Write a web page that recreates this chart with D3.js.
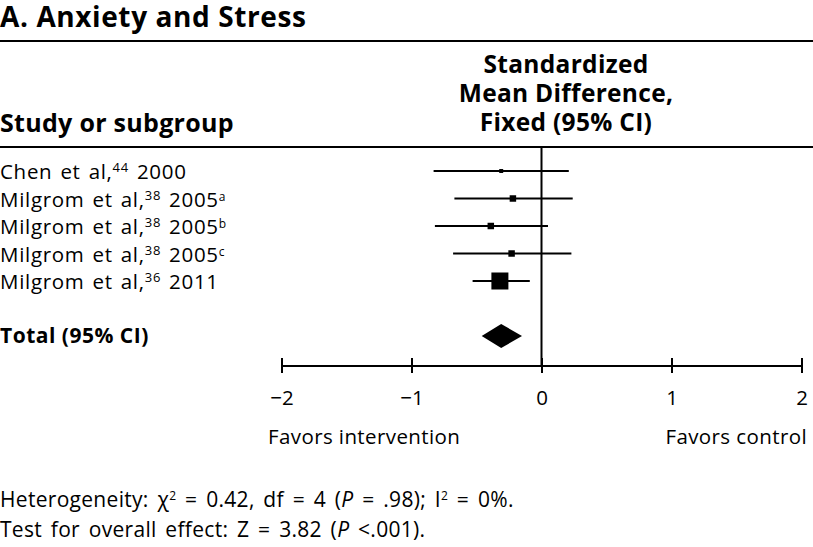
<!DOCTYPE html>
<html>
<head>
<meta charset="utf-8">
<script src="https://cdn.jsdelivr.net/npm/d3@7"></script>
<style>
body{margin:0;background:#fff}
svg{display:block}
text{font-family:"Open Sans",sans-serif;fill:#000}
</style>
</head>
<body>
<div id="chart"></div>
<script>
// study rows
var studyNames = ["Chen et al,","Milgrom et al,","Milgrom et al,","Milgrom et al,","Milgrom et al,"]
var studyRefs = ["44","38","38","38","36"]
var studyYears = ["2000","2005","2005","2005","2011"]
var studyNotes = ["","a","b","c",""]
var smd = [-0.31,-0.22,-0.39,-0.23,-0.32]
var ciLow = [-0.83,-0.67,-0.82,-0.68,-0.53]
var ciHigh = [0.21,0.24,0.05,0.23,-0.09]
var boxWeight = [3,8,8,8,55]
// pooled
var totalSmd = -0.31
var totalLow = -0.46
var totalHigh = -0.15
var xTicks = [-2,-1,0,1,2]

var W = 813, H = 547
var svg = d3.select("#chart").append("svg").attr("width",W).attr("height",H)

var x = d3.scaleLinear().domain([-2,2]).range([281.5,801.5])
var row = d3.scaleLinear().domain([0,6]).range([171,336])
var box = d3.scaleSqrt().domain([0,55]).range([0,17])

// title + rules
svg.append("text").attr("x",0).attr("y",27).style("font-size","28px").style("font-weight","bold").style("letter-spacing","0.6px").text("A. Anxiety and Stress")
svg.append("line").attr("x1",0).attr("x2",W).attr("y1",41).attr("y2",41).attr("stroke","#000").attr("stroke-width",2)
svg.append("line").attr("x1",0).attr("x2",W).attr("y1",147).attr("y2",147).attr("stroke","#000").attr("stroke-width",2)

svg.append("text").attr("x",0).attr("y",132).style("font-size","25px").style("font-weight","bold").style("letter-spacing","0.3px").text("Study or subgroup")
var head = ["Standardized","Mean Difference,","Fixed (95% CI)"]
svg.selectAll(".head").data(head).enter().append("text")
	.attr("class","head")
	.attr("x",566).attr("y",function(d,i){return 73+i*29})
	.attr("text-anchor","middle")
	.style("font-size","24.5px").style("font-weight","bold").style("letter-spacing","0.3px")
	.text(function(d){return d})

// study labels
var lab = svg.selectAll(".lab").data(studyNames).enter().append("text")
	.attr("class","lab").attr("x",0)
	.attr("y",function(d,i){return row(i)+8})
	.style("font-size","20.5px").style("letter-spacing","0.7px").style("word-spacing","2px")
lab.append("tspan").text(function(d){return d})
lab.append("tspan").attr("dy",-7).style("font-size","13px").text(function(d,i){return studyRefs[i]})
lab.append("tspan").attr("dy",7).text(function(d,i){return " "+studyYears[i]})
lab.append("tspan").attr("dy",-6).style("font-size","12px").text(function(d,i){return studyNotes[i]})

svg.append("text").attr("x",0).attr("y",row(6)+7).style("font-size","21px").style("font-weight","bold").style("letter-spacing","0.5px").text("Total (95% CI)")

// zero line
svg.append("line").attr("x1",x(0)).attr("x2",x(0)).attr("y1",148).attr("y2",366).attr("stroke","#000").attr("stroke-width",2)

// CIs
svg.selectAll(".ci").data(smd).enter().append("line")
	.attr("x1",function(d,i){return x(ciLow[i])})
	.attr("x2",function(d,i){return x(ciHigh[i])})
	.attr("y1",function(d,i){return row(i)})
	.attr("y2",function(d,i){return row(i)})
	.attr("stroke","#000").attr("stroke-width",2.2)
svg.selectAll(".box").data(smd).enter().append("rect")
	.attr("x",function(d,i){return x(d)-box(boxWeight[i])/2})
	.attr("y",function(d,i){return row(i)-box(boxWeight[i])/2})
	.attr("width",function(d,i){return box(boxWeight[i])})
	.attr("height",function(d,i){return box(boxWeight[i])})
	.attr("fill","#000")

// diamond
var yt = row(6)
svg.append("path")
	.attr("d","M"+x(totalLow)+","+yt+"L"+x(totalSmd)+","+(yt-12)+"L"+x(totalHigh)+","+yt+"L"+x(totalSmd)+","+(yt+12)+"Z")
	.attr("fill","#000")

// axis
var axY = 366
var ax = svg.append("g").attr("transform","translate(0,"+(axY-8)+")")
	.call(d3.axisBottom(x).tickValues(xTicks).tickSize(15).tickSizeOuter(0).tickFormat(d3.format("d")))
ax.select(".domain").remove()
ax.selectAll(".tick line").attr("stroke","#000").attr("stroke-width",2)
ax.selectAll(".tick text").attr("y",47).attr("dy",0).style("font-size","20.5px").style("font-family","Open Sans").attr("fill","#000")
svg.append("line").attr("x1",x(-2)).attr("x2",x(2)).attr("y1",axY).attr("y2",axY).attr("stroke","#000").attr("stroke-width",2)

svg.append("text").attr("x",268).attr("y",444).style("font-size","20.5px").style("letter-spacing","0.4px").text("Favors intervention")
svg.append("text").attr("x",807).attr("y",444).attr("text-anchor","end").style("font-size","20.5px").style("letter-spacing","0.4px").text("Favors control")

// footer
var f1 = svg.append("text").attr("x",0).attr("y",507).style("font-size","21px").style("letter-spacing","0.3px").style("word-spacing","3px")
f1.append("tspan").text("Heterogeneity: χ")
f1.append("tspan").attr("dy",-7).style("font-size","12px").text("2")
f1.append("tspan").attr("dy",7).text(" = 0.42, df = 4 (")
f1.append("tspan").style("font-style","italic").text("P")
f1.append("tspan").text(" = .98); I")
f1.append("tspan").attr("dy",-7).style("font-size","12px").text("2")
f1.append("tspan").attr("dy",7).text(" = 0%.")
var f2 = svg.append("text").attr("x",0).attr("y",537).style("font-size","21px").style("letter-spacing","0.3px").style("word-spacing","3px")
f2.append("tspan").text("Test for overall effect: Z = 3.82 (")
f2.append("tspan").style("font-style","italic").text("P")
f2.append("tspan").text(" <.001).")
</script>
</body>
</html>
